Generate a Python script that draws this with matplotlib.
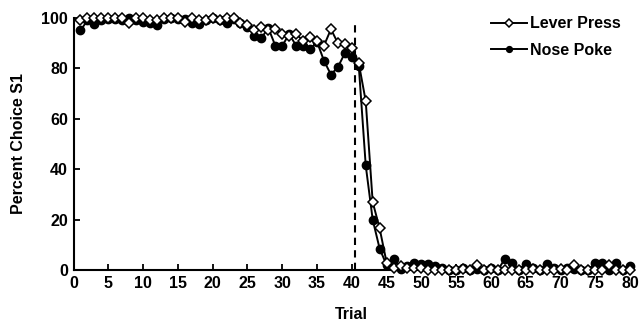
import matplotlib
matplotlib.use("Agg")
import matplotlib.pyplot as plt
import numpy as np

plt.rcParams['font.family'] = ['Liberation Sans', 'DejaVu Sans']
plt.rcParams['font.weight'] = 'bold'

trials = list(range(1, 81))
lever_press = [99, 100, 100, 100, 100, 100, 100, 98, 100, 100,
               99, 99, 100, 100, 100, 98.5, 100, 99, 99, 100,
               99, 100, 100, 98, 97, 95, 96.5, 95, 95.5, 93.5,
               93, 93.5, 91, 92.5, 91, 89, 95.5, 90, 89.5, 88,
               82, 67, 27, 16.5, 3, 1, 1.5, 1, 1, 1,
               0, 0, 0, 0, 0, 0.5, 0, 2, 0, 0.5,
               0, 0, 0, 0, 0, 0.5, 0, 0, 0, 0.5,
               0, 2, 0, 0, 0, 0, 2, 0, 0, 0]
nose_poke = [95, 99, 97.5, 99, 99.5, 99.5, 99, 100, 99, 98.5,
             98, 97, 99.5, 100, 99.5, 99.5, 98, 97.5, 99, 100,
             99, 98, 99.5, 98, 96.5, 93, 92, 96, 89, 89,
             93.5, 89, 89, 87.5, 90.5, 83, 77.5, 80.5, 86, 84.5,
             81, 41.5, 20, 8.5, 2, 4.5, 0.5, 1.5, 3, 2.5,
             2.5, 1.5, 1, 0, 0, 1, 0, 0.5, 0, 1,
             0, 4.5, 3, 0, 2.5, 1, 0, 2.5, 1, 0,
             1, 0.5, 0, 0, 3, 3, 0, 3, 0, 1.5]
criterion_trial = 40.5
xticks = list(range(0, 81, 5))
yticks = list(range(0, 101, 20))

fs = 11.5

fig = plt.figure(figsize=(6.41, 3.25), dpi=100)
ax = fig.add_axes([0.1147, 0.169, 0.8683, 0.776])

ax.plot(trials, nose_poke, color='black', lw=1.4, marker='o', ms=6,
        mfc='black', mec='black', label='Nose Poke', clip_on=False, zorder=3)
ax.plot(trials, lever_press, color='black', lw=1.4, marker='D', ms=5.3,
        mfc='white', mec='black', mew=1.1, label='Lever Press', clip_on=False, zorder=4)
ax.plot([criterion_trial, criterion_trial], [0, 98], color='black', lw=1.5,
        ls=(0, (3.5, 2.5)), zorder=2)

ax.set_xlim(0, 80)
ax.set_ylim(0, 100)
ax.set_xticks(xticks)
ax.set_yticks(yticks)
for s in ['top', 'right']:
    ax.spines[s].set_visible(False)
for s in ['left', 'bottom']:
    ax.spines[s].set_linewidth(1.5)
ax.tick_params(direction='in', length=4, width=1.3, labelsize=fs, pad=4)
for lab in ax.get_xticklabels() + ax.get_yticklabels():
    lab.set_fontweight('bold')
ax.set_xlabel('Trial', fontsize=fs, fontweight='bold', labelpad=12)
ax.set_ylabel('Percent Choice S1', fontsize=fs, fontweight='bold', labelpad=11)

handles, labels = ax.get_legend_handles_labels()
leg = ax.legend(handles[::-1], labels[::-1], loc='upper right',
                bbox_to_anchor=(1.0, 1.045), frameon=False, fontsize=fs,
                handlelength=2.2, handletextpad=0.2, labelspacing=0.75,
                markerscale=0.7, borderaxespad=0.2)
for t in leg.get_texts():
    t.set_fontweight('bold')

fig.savefig('out.png', dpi=100)
